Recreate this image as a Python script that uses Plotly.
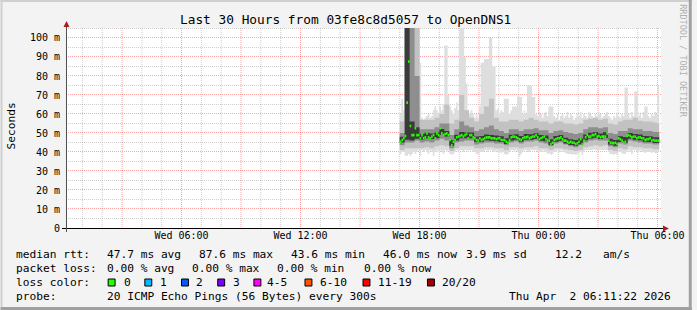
import math
import pandas as pd
import plotly.graph_objects as go

# ---------------- data (ms) ----------------
median_ms = [45.4, 46.3, 47.2, 48.4, 66.0, 87.6, 53.7, 48.9, 48.9, 52.5,
             48.9, 48.9, 47.2, 48.9, 47.2, 47.7, 49.8, 47.7, 47.2, 48.1,
             48.9, 47.2, 49.8, 48.9, 52.5, 49.8, 48.9, 49.5, 49.8, 48.9,
             46.3, 43.6, 45.4, 46.3, 47.7, 48.1, 48.4, 48.9, 48.1, 48.9,
             49.5, 47.2, 48.9, 48.9, 47.7, 47.2, 46.3, 46.0, 47.2, 46.3,
             46.7, 47.2, 47.7, 47.7, 47.7, 47.2, 47.2, 47.2, 46.7, 47.2,
             47.2, 46.3, 46.3, 46.3, 45.4, 44.9, 46.3, 47.7, 48.1, 48.1,
             47.7, 47.2, 46.7, 46.3, 47.2, 47.7, 47.7, 48.1, 47.2, 47.7,
             48.1, 48.1, 48.9, 47.7, 46.7, 47.2, 47.7, 48.1, 46.7, 46.0,
             46.0, 44.2, 44.9, 46.3, 46.7, 47.2, 47.2, 47.7, 46.7, 46.0,
             46.0, 45.4, 44.9, 45.4, 44.9, 44.9, 44.2, 44.6, 45.4, 46.7,
             44.2, 46.0, 47.7, 48.9, 48.1, 48.1, 48.9, 48.9, 49.5, 48.1,
             48.4, 47.7, 48.1, 48.1, 48.1, 49.8, 46.0, 44.9, 44.9, 44.6,
             44.9, 44.2, 47.2, 46.7, 46.0, 44.9, 45.4, 48.4, 48.9, 48.4,
             47.7, 48.1, 48.1, 47.2, 47.7, 47.7, 47.2, 47.2, 46.3, 46.7,
             46.7, 47.2, 46.0, 46.3, 46.0, 46.0, 46.0]

max_ms = [60, 68, 62, 110, 110, 110, 110, 110, 110, 110,
          110, 110, 87, 58, 57, 58, 59, 60, 58, 59,
          62, 64, 62, 60, 64, 62, 65, 96, 96, 70,
          64, 62, 60, 63, 66, 62, 110, 110, 110, 90,
          76, 62, 60, 62, 60, 58, 60, 58, 64, 87,
          87, 89, 89, 89, 100, 100, 85, 85, 62, 63,
          60, 62, 61, 68, 68, 68, 60, 62, 64, 64,
          64, 69, 69, 69, 60, 62, 60, 75, 75, 75,
          69, 69, 60, 59, 61, 60, 58, 60, 61, 59,
          64, 64, 64, 59, 58, 60, 57, 59, 60, 58,
          59, 61, 58, 60, 59, 57, 58, 60, 59, 61,
          58, 60, 59, 58, 61, 60, 59, 58, 60, 59,
          61, 60, 58, 59, 60, 61, 59, 58, 57, 59,
          58, 60, 59, 58, 60, 59, 74, 74, 60, 58,
          61, 59, 72, 72, 59, 60, 58, 61, 64, 64,
          59, 58, 60, 59, 61, 60, 75]

min_ms = [39, 40, 40, 38, 38, 39, 38, 39, 40, 39,
          40, 41, 38, 41, 40, 41, 40, 39, 41, 40,
          38, 40, 41, 40, 41, 40, 39, 41, 40, 41,
          39, 38.5, 39, 40, 41, 40, 41, 41, 40, 41,
          41, 40, 41, 41, 40, 40, 39, 39, 40, 40,
          40, 41, 41, 40, 41, 41, 40, 40, 41, 40,
          40, 39.5, 40, 39, 38.5, 39, 40, 41, 41, 40,
          41, 40, 37.5, 39, 40, 41, 41, 40, 40, 41,
          41, 41, 41, 40, 40, 40, 41, 40, 40, 39,
          39.5, 38.5, 39, 40, 40, 41, 40, 41, 40, 40,
          39.5, 39, 39, 39, 38.5, 39, 38.5, 39, 39.5, 40,
          38.5, 40, 41, 41, 41, 41, 41, 41.5, 41, 41,
          41, 41, 41, 41, 41, 41, 40, 39, 39, 38.5,
          39, 38.5, 40, 40, 39.5, 39, 39, 40, 41, 40,
          39, 41, 41, 40, 40, 41, 40, 40, 39.5, 40,
          40, 40, 39.5, 40, 39.5, 39.5, 40]

# 15-minute smoke percentiles (ms)
p10_ms = [41, 42, 42, 42, 42, 42.5, 42, 43, 43.5, 43,
          40.5, 42, 43, 43, 43, 42, 42, 42.5, 42.5, 42,
          42, 41, 42.5, 42.5, 42, 42.5, 42.5, 43, 42, 42,
          41, 42, 42, 41.5, 41, 40.5, 41, 42.5, 43, 43.5,
          43, 43.5, 41, 40.5, 42, 41.5, 43, 42.5, 42.5, 42,
          42, 41.5, 41.5]
p25_ms = [43.5, 45, 45, 46, 45, 45.5, 45, 46, 47, 46,
          42, 45, 45.5, 46, 46, 44, 44.5, 45, 45, 44.5,
          44.5, 43.5, 45, 45.5, 44.5, 45.5, 45.5, 46, 45, 44.5,
          43, 44.5, 45, 44, 43, 42.5, 43.5, 45, 46, 46.5,
          46, 46, 43, 42.5, 44.5, 44, 46, 45.5, 45, 44.5,
          44.5, 44, 44]
p40_ms = [45.0, 46.5, 46.0, 47.0, 46.5, 47.1, 46.8, 47.3, 49.1, 48.1,
          43.3, 46.1, 47.2, 47.2, 47.2, 45.2, 45.4, 46.2, 45.9, 45.7,
          45.3, 44.2, 46.1, 46.4, 45.4, 46.5, 46.4, 46.9, 45.9, 45.7,
          43.7, 45.4, 45.9, 44.5, 43.7, 43.3, 44.1, 46.2, 47.1, 47.5,
          46.8, 47.4, 44.0, 43.3, 45.3, 44.9, 47.0, 46.5, 46.2, 45.4,
          45.3, 44.8, 44.7]
p60_ms = [48.0, 110, 56, 53, 49.5, 50.1, 49.8, 50.3, 52.1, 51.1,
          46.3, 49.1, 50.5, 50.2, 50.2, 48.2, 48.4, 49.2, 48.9, 48.7,
          48.3, 47.2, 49.1, 49.4, 48.4, 49.5, 49.4, 49.9, 48.9, 48.7,
          46.7, 48.4, 48.9, 47.5, 46.7, 46.3, 47.1, 49.2, 50.1, 50.5,
          49.8, 50.4, 47.0, 46.3, 48.3, 47.9, 50.0, 49.5, 49.2, 48.4,
          48.3, 47.8, 47.7]
p75_ms = [50, 110, 110, 80, 52, 52, 52, 53, 55, 55,
          49, 52, 56, 54, 53, 51, 52, 53, 54, 52,
          51, 50, 52, 52, 51, 52, 52, 52.5, 51.5, 51.5,
          50, 51, 51.5, 50.5, 50, 49.5, 50, 52, 53, 53,
          52.5, 53, 50, 49.5, 51, 51, 52.5, 52, 52, 51,
          51, 50.5, 50.5]
p90_ms = [56, 110, 110, 110, 57, 57, 57, 58, 60, 65,
          55, 57, 70, 62, 58, 56, 60, 64, 68, 58,
          56, 56, 57, 57, 56, 57, 58, 57, 56, 56,
          55, 56, 56, 55, 55, 54.5, 55, 57, 57.5, 58,
          57, 57.5, 55, 54.5, 56, 57, 57, 58, 56.5, 56,
          56, 55.5, 55]

y_ticks = [0, 10, 20, 30, 40, 50, 60, 70, 80, 90, 100]
y_labels = ["0", "10 m", "20 m", "30 m", "40 m", "50 m", "60 m", "70 m", "80 m", "90 m", "100 m"]
x_label_times = ["2026-04-01 06:00", "2026-04-01 12:00", "2026-04-01 18:00", "2026-04-02 00:00", "2026-04-02 06:00"]
x_labels = ["Wed 06:00", "Wed 12:00", "Wed 18:00", "Thu 00:00", "Thu 06:00"]

loss_labels = ["0", "1", "2", "3", "4-5", "6-10", "11-19", "20/20"]
loss_colors = ["#26ff00", "#00b8ff", "#0059ff", "#7e00ff", "#ff00ff", "#ff5500", "#ff0000", "#a10000"]

title = "Last 30 Hours from 03fe8c8d5057 to OpenDNS1"

# ---------------- geometry ----------------
W, H = 697, 310
L, R, T, B = 66, 666, 28, 228
PW, PH = R - L, B - T
T0 = pd.Timestamp("2026-04-01 00:10:28")
T1 = T0 + pd.Timedelta(hours=30)
YMAX = 105.26
FONT = "DejaVu Sans Mono"


def px(x):
    return (x - L) / PW


def py(y):
    return (B - y) / PH


def tpx(t):
    return L + (pd.Timestamp(t) - T0) / (T1 - T0) * PW


def vpx(v):
    return B - v / YMAX * PH


fig = go.Figure()

t5 = pd.date_range("2026-04-01 17:00", periods=len(median_ms) + 1, freq="5min")
t15 = list(pd.date_range("2026-04-01 17:00", periods=len(p10_ms), freq="15min")) + [t5[-1]]


def band(xs, lo, hi, color):
    fig.add_trace(go.Scatter(x=xs, y=lo + [lo[-1]], mode="lines",
                             line=dict(width=0, shape="hv"), hoverinfo="skip", showlegend=False))
    fig.add_trace(go.Scatter(x=xs, y=hi + [hi[-1]], mode="lines", fill="tonexty", fillcolor=color,
                             line=dict(width=0, shape="hv"), hoverinfo="skip", showlegend=False))


band(list(t5), min_ms, max_ms, "#dedede")
band(t15, p10_ms, p90_ms, "#c2c2c2")
band(t15, p25_ms, p75_ms, "#8e8e8e")
band(t15, p40_ms, p60_ms, "#3a3a3a")

mx, my = [], []
for i, m in enumerate(median_ms):
    mx += [t5[i], t5[i + 1], None]
    my += [m, m, None]
fig.add_trace(go.Scatter(x=mx, y=my, mode="lines", line=dict(color="#26ff00", width=2.6),
                         hoverinfo="skip", showlegend=False))

MAJ = "rgba(255,40,40,0.42)"
MIN = "rgba(110,110,110,0.34)"
shapes = []
# grid (under the smoke)
for h in pd.date_range("2026-04-01 01:00", "2026-04-02 06:00", freq="1h"):
    xp = math.floor(tpx(h)) + 0.5
    col = MAJ if h.hour % 3 == 0 else MIN
    shapes.append(dict(type="line", xref="paper", yref="paper", x0=px(xp), x1=px(xp), y0=py(T), y1=py(B),
                       line=dict(color=col, width=1, dash="1px,1px"), layer="below"))
for v in range(5, 106, 5):
    if v > YMAX:
        break
    yp = math.ceil(vpx(v)) - 0.5
    col = MAJ if v % 10 == 0 else MIN
    shapes.append(dict(type="line", xref="paper", yref="paper", x0=px(L), x1=px(R), y0=py(yp), y1=py(yp),
                       line=dict(color=col, width=1, dash="1px,1px"), layer="below"))

# axes
shapes.append(dict(type="line", xref="paper", yref="paper", x0=px(62), x1=px(670), y0=py(228.5), y1=py(228.5),
                   line=dict(color="#000000", width=1), layer="above"))
shapes.append(dict(type="line", xref="paper", yref="paper", x0=px(66.5), x1=px(66.5), y0=py(232), y1=py(24),
                   line=dict(color="#505050", width=1), layer="above"))


def poly(points):
    return "M " + " L ".join(f"{px(x):.5f},{py(y):.5f}" for x, y in points) + " Z"


shapes.append(dict(type="path", xref="paper", yref="paper", path=poly([(668, 225.5), (674, 228.5), (668, 231.5)]),
                   fillcolor="#a81c1c", line=dict(width=0), layer="above"))
shapes.append(dict(type="path", xref="paper", yref="paper", path=poly([(63.5, 27), (66.5, 21), (69.5, 27)]),
                   fillcolor="#a81c1c", line=dict(width=0), layer="above"))

# frame
shapes.append(dict(type="rect", xref="paper", yref="paper", x0=px(0), x1=px(697), y0=py(0), y1=py(2),
                   fillcolor="#d0d0d0", line=dict(width=0), layer="below"))
shapes.append(dict(type="rect", xref="paper", yref="paper", x0=px(0), x1=px(2), y0=py(0), y1=py(310),
                   fillcolor="#d0d0d0", line=dict(width=0), layer="below"))
shapes.append(dict(type="rect", xref="paper", yref="paper", x0=px(694), x1=px(697), y0=py(0), y1=py(310),
                   fillcolor="#a0a0a0", line=dict(width=0), layer="below"))
shapes.append(dict(type="rect", xref="paper", yref="paper", x0=px(0), x1=px(697), y0=py(307), y1=py(310),
                   fillcolor="#a0a0a0", line=dict(width=0), layer="below"))

# loss colour swatches
sw_x = [108.5, 145.5, 182.5, 219, 255.5, 307, 365.5, 430.5]
sw_t = [124, 161, 197.5, 234, 269, 322, 380.5, 445]
for xx, c in zip(sw_x, loss_colors):
    shapes.append(dict(type="rect", xref="paper", yref="paper", x0=px(xx), x1=px(xx + 7), y0=py(279), y1=py(286),
                       fillcolor=c, line=dict(color="#000000", width=1), layer="above"))

fig.update_layout(shapes=shapes)

anns = []


def txt(x, y, s, size=11.2, anchor="left", color="#000000", angle=0):
    anns.append(dict(x=px(x), y=py(y), xref="paper", yref="paper", text=s.replace(" ", "\u00a0"),
                     showarrow=False, xanchor=anchor, yanchor="middle", textangle=angle, borderpad=0,
                     font=dict(family=FONT, size=size, color=color)))


txt(348, 19, title, size=12.8, anchor="center")
txt(11, 126, "Seconds", size=11.2, anchor="center", angle=-90)
txt(688, 61, "RRDTOOL / TOBI OETIKER", size=8.5, anchor="center", angle=90, color="#b0b0b0")

row = [254.5, 268.5, 282.5, 296.3]
txt(15, row[0], "median rtt:")
txt(106, row[0], "47.7 ms avg")
txt(199, row[0], "87.6 ms max")
txt(292, row[0], "43.6 ms min")
txt(385, row[0], "46.0 ms now")
txt(468, row[0], "3.9 ms sd")
txt(558, row[0], "12.2")
txt(606, row[0], "am/s")
txt(15, row[1], "packet loss:")
txt(106, row[1], "0.00 % avg")
txt(192, row[1], "0.00 % max")
txt(278, row[1], "0.00 % min")
txt(365, row[1], "0.00 % now")
txt(15, row[2], "loss color:")
for xx, lab in zip(sw_t, loss_labels):
    txt(xx - 1, row[2], lab)
txt(15, row[3], "probe:")
txt(106, row[3], "20 ICMP Echo Pings (56 Bytes) every 300s")
txt(512, row[3], "Thu Apr  2 06:11:22 2026")

fig.update_layout(annotations=anns)

fig.update_layout(
    width=W, height=H,
    margin=dict(l=L, r=W - R, t=T, b=H - B, pad=0),
    paper_bgcolor="#f3f3f3", plot_bgcolor="#ffffff",
    showlegend=False,
    xaxis=dict(type="date", range=[T0, T1], showgrid=False, zeroline=False, showline=False,
               tickmode="array", tickvals=x_label_times, ticktext=x_labels, ticks="",
               tickfont=dict(family=FONT, size=10, color="#000000"), fixedrange=True),
    yaxis=dict(range=[0, YMAX], showgrid=False, zeroline=False, showline=False,
               tickmode="array", tickvals=y_ticks, ticktext=y_labels, ticks="",
               ticklabelstandoff=5,
               tickfont=dict(family=FONT, size=10, color="#000000"), fixedrange=True),
)

fig.write_html("out.html")
